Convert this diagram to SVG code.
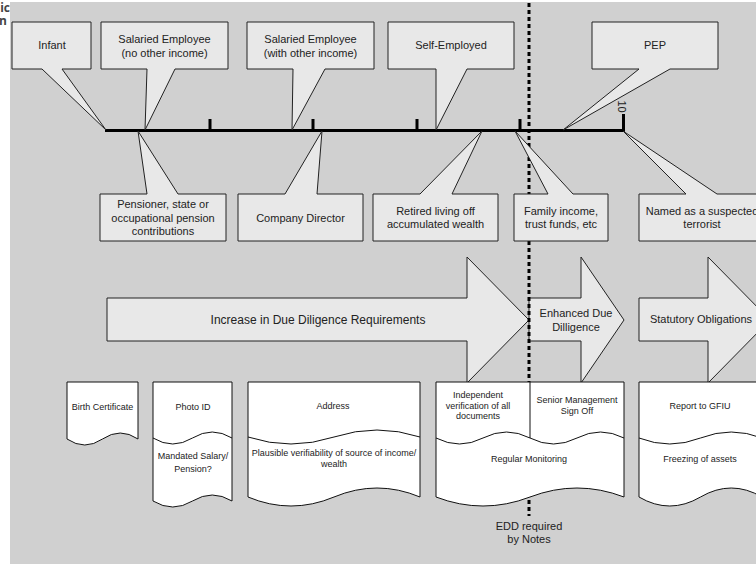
<svg xmlns="http://www.w3.org/2000/svg" width="756" height="564" viewBox="0 0 756 564">
  <style>
    .bg { fill: #d0d0d0; }
    .callout { fill: #e8e8e8; stroke: #222; stroke-width: 1; stroke-linejoin: miter; }
    .arrow { fill: #e8e8e8; stroke: #222; stroke-width: 1; }
    .doc { fill: #ffffff; stroke: #111; stroke-width: 1; }
    .docline { fill: none; stroke: #111; stroke-width: 1; }
    .axis { stroke: #000; stroke-width: 3; fill: none; }
    .tick { stroke: #000; stroke-width: 3; }
    .edd { stroke: #000; stroke-width: 3; stroke-dasharray: 4 3; fill: none; }
    .t11 { font-family: "Liberation Sans", Arial, sans-serif; font-size: 11px; fill: #222; text-anchor: middle; }
    .t12 { font-family: "Liberation Sans", Arial, sans-serif; font-size: 12px; fill: #222; text-anchor: middle; }
    .t9 { font-family: "Liberation Sans", Arial, sans-serif; font-size: 9px; fill: #222; text-anchor: middle; }
    .cut { font-family: "Open Sans", "DejaVu Sans", sans-serif; font-size: 12px; font-weight: bold; fill: #444; text-anchor: end; }
  </style>

  <!-- page background -->
  <rect width="756" height="564" fill="#ffffff"/>
  <rect class="bg" x="10" y="2" width="746" height="562"/>
  <text class="cut" x="10" y="12">ic</text>
  <text class="cut" x="7" y="25">n</text>

  <!-- risk timeline -->
  <g id="timeline">
    <line class="axis" x1="105" y1="130.5" x2="625" y2="130.5"/>
    <line class="tick" x1="210" y1="119" x2="210" y2="130"/>
    <line class="tick" x1="313" y1="119" x2="313" y2="130"/>
    <line class="tick" x1="417" y1="119" x2="417" y2="130"/>
    <line class="tick" x1="520" y1="119" x2="520" y2="130"/>
    <line class="tick" x1="623.5" y1="114" x2="623.5" y2="130"/>
    <text class="t11" transform="translate(618,106.5) rotate(90)">10</text>
  </g>

  <!-- due diligence arrows -->
  <g id="arrow-increase">
    <path class="arrow" d="M107,298 H467 V257 L529,320 L467,383 V341 H107 Z"/>
    <text class="t12" x="318" y="324">Increase in Due Diligence Requirements</text>
  </g>
  <g id="arrow-edd">
    <path class="arrow" d="M529,298 H581 V257 L624,320 L581,383 V341 H529 Z"/>
    <text class="t11" x="576" y="317">Enhanced Due</text>
    <text class="t11" x="576" y="331">Dilligence</text>
  </g>
  <g id="arrow-statutory">
    <path class="arrow" d="M639,298 H708 V257 L770,320 L708,383 V341 H639 Z"/>
    <text class="t11" x="701" y="323">Statutory Obligations</text>
  </g>

  <!-- EDD threshold marker -->
  <g id="connectors">
    <line class="edd" x1="529" y1="3" x2="529" y2="516"/>
  </g>

  <!-- upper callouts -->
  <g id="infant">
    <path class="callout" d="M12,22 H91 V69 H62 L106,130 L42,69 H12 Z"/>
    <text class="t11" x="52" y="49">Infant</text>
  </g>
  <g id="salaried-no-other">
    <path class="callout" d="M101,22 H228 V69 H175 L145,130 L147,69 H101 Z"/>
    <text class="t11" x="164.5" y="43">Salaried Employee</text>
    <text class="t11" x="164.5" y="57">(no other income)</text>
  </g>
  <g id="salaried-with-other">
    <path class="callout" d="M247,22 H374 V69 H325 L292,130 L293,69 H247 Z"/>
    <text class="t11" x="310.5" y="43">Salaried Employee</text>
    <text class="t11" x="310.5" y="57">(with other income)</text>
  </g>
  <g id="self-employed">
    <path class="callout" d="M388,22 H514 V69 H467 L436,130 L436,69 H388 Z"/>
    <text class="t11" x="451" y="49">Self-Employed</text>
  </g>
  <g id="pep">
    <path class="callout" d="M592,22 H718 V69 H670 L563,130 L639,69 H592 Z"/>
    <text class="t11" x="655" y="49">PEP</text>
  </g>

  <!-- lower callouts -->
  <g id="pensioner">
    <path class="callout" d="M100,194 H147 L138,131 L178,194 H226 V241 H100 Z"/>
    <text class="t11" x="163" y="208">Pensioner, state or</text>
    <text class="t11" x="163" y="222">occupational pension</text>
    <text class="t11" x="163" y="235">contributions</text>
  </g>
  <g id="company-director">
    <path class="callout" d="M238,194 H285 L322,131 L317,194 H363 V241 H238 Z"/>
    <text class="t11" x="300.5" y="222">Company Director</text>
  </g>
  <g id="retired">
    <path class="callout" d="M373,194 H420 L482,131 L452,194 H498 V241 H373 Z"/>
    <text class="t11" x="435.5" y="215">Retired living off</text>
    <text class="t11" x="435.5" y="228">accumulated wealth</text>
  </g>
  <g id="family-income">
    <path class="callout" d="M514,194 H548 L515,131 L573,194 H608 V241 H514 Z"/>
    <text class="t11" x="561" y="215">Family income,</text>
    <text class="t11" x="561" y="228">trust funds, etc</text>
  </g>
  <g id="suspected-terrorist">
    <path class="callout" d="M639,194 H686 L623,131 L717,194 H766 V241 H639 Z"/>
    <text class="t11" x="702" y="215">Named as a suspected</text>
    <text class="t11" x="702" y="228">terrorist</text>
  </g>

  <!-- documents required -->
  <g id="doc-birth">
    <path class="doc" d="M67,382 H138 V439 Q120.25,427 102.5,439 T67,439 Z"/>
    <text class="t9" x="102.5" y="410">Birth Certificate</text>
  </g>
  <g id="doc-photo">
    <path class="doc" d="M153,382 H232 V501 Q212.25,489 192.5,501 T153,501 Z"/>
    <path class="docline" d="M153,438 Q172.75,450 192.5,438 T232,438"/>
    <text class="t9" x="193" y="410">Photo ID</text>
    <text class="t9" x="193" y="459">Mandated Salary/</text>
    <text class="t9" x="193" y="472">Pension?</text>
  </g>
  <g id="doc-address">
    <path class="doc" d="M248,382 H420 V497 Q377,479 334,497 T248,497 Z"/>
    <path class="docline" d="M248,437 Q291,451 334,437 T420,437"/>
    <text class="t9" x="333" y="409">Address</text>
    <text class="t9" x="334" y="456">Plausible verifiability of source of income/</text>
    <text class="t9" x="334" y="467">wealth</text>
  </g>
  <g id="doc-edd">
    <path class="doc" d="M436,382 H624 V497 Q577,479 530,497 T436,497 Z"/>
    <path class="docline" d="M436,438 Q459.5,450 483,438 T530,438"/>
    <path class="docline" d="M530,438 Q553.5,450 577,438 T624,438"/>
    <line class="docline" x1="530" y1="382" x2="530" y2="438"/>
    <text class="t9" x="478" y="398">Independent</text>
    <text class="t9" x="478" y="409">verification of all</text>
    <text class="t9" x="478" y="419">documents</text>
    <text class="t9" x="577" y="403">Senior Management</text>
    <text class="t9" x="577" y="414">Sign Off</text>
    <text class="t9" x="529" y="462">Regular Monitoring</text>
  </g>
  <g id="doc-statutory">
    <path class="doc" d="M639,382 H762 V497 Q731.25,479 700.5,497 T639,497 Z"/>
    <path class="docline" d="M639,438 Q669.75,450 700.5,438 T762,438"/>
    <text class="t9" x="700" y="409">Report to GFIU</text>
    <text class="t9" x="700" y="462">Freezing of assets</text>
  </g>

  <g id="edd-note">
    <text class="t11" x="529" y="530">EDD required</text>
    <text class="t11" x="529" y="543">by Notes</text>
  </g>
</svg>
